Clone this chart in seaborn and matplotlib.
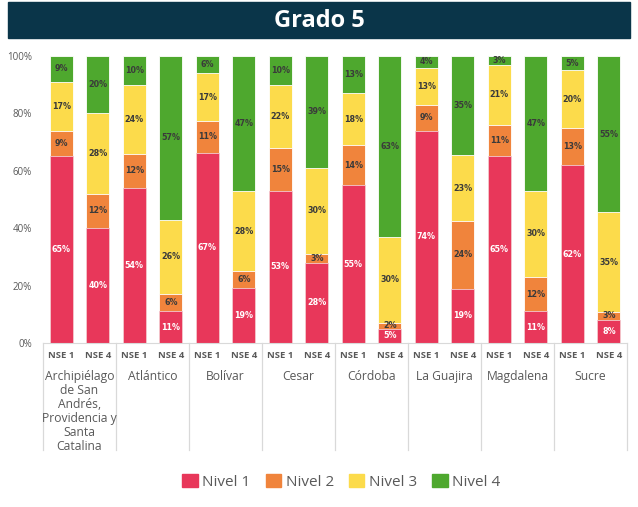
import matplotlib
matplotlib.use("Agg")
import matplotlib.pyplot as plt
from matplotlib.patches import Rectangle, Patch
import pandas as pd
import seaborn as sns

# === Data ===
REGIONS = [
    "Archipiélago\nde San\nAndrés,\nProvidencia y\nSanta\nCatalina",
    "Atlántico",
    "Bolívar",
    "Cesar",
    "Córdoba",
    "La Guajira",
    "Magdalena",
    "Sucre",
]
NSE = ["NSE 1", "NSE 4"]
LEVELS = ["Nivel 1", "Nivel 2", "Nivel 3", "Nivel 4"]

# one entry per bar: region order, NSE 1 then NSE 4
NIVEL_1 = [65, 40, 54, 11, 67, 19, 53, 28, 55, 5, 74, 19, 65, 11, 62, 8]
NIVEL_2 = [9, 12, 12, 6, 11, 6, 15, 3, 14, 2, 9, 24, 11, 12, 13, 3]
NIVEL_3 = [17, 28, 24, 26, 17, 28, 22, 30, 18, 30, 13, 23, 21, 30, 20, 35]
NIVEL_4 = [9, 20, 10, 57, 6, 47, 10, 39, 13, 63, 4, 35, 3, 47, 5, 55]

COLORS = ["#E8375A", "#F0843C", "#FCDB4B", "#4EA82E"]
TEXT_COLORS = ["white", "#3a3a3a", "#3a3a3a", "#3a3a3a"]
GRAY = "#595959"

plt.rcParams["font.family"] = ["Open Sans", "DejaVu Sans"]

# long table, one row per bar
bars = [f"{r}|{n}" for r in REGIONS for n in NSE]
df = pd.DataFrame({
    "bar": bars,
    "Nivel 1": NIVEL_1,
    "Nivel 2": NIVEL_2,
    "Nivel 3": NIVEL_3,
    "Nivel 4": NIVEL_4,
})
total = df[LEVELS].sum(axis=1)
# 100% stacked: cumulative share of each bar
cum = df[LEVELS].cumsum(axis=1).div(total, axis=0) * 100

fig = plt.figure(figsize=(6.38, 5.07), dpi=100)
ax = fig.add_axes([0.0674, 0.3235, 0.9156, 0.566])

# draw tallest cumulative first so lower levels sit on top
for i in range(len(LEVELS) - 1, -1, -1):
    sns.barplot(
        x=df["bar"], y=cum[LEVELS[i]], order=bars, color=COLORS[i],
        width=0.63, edgecolor="#f4c9cf" if i == 0 else "white",
        linewidth=0.6, ax=ax, saturation=1, errorbar=None,
    )

# segment labels
for j in range(len(bars)):
    prev = 0
    for i, lev in enumerate(LEVELS):
        top = cum.loc[j, lev]
        mid = (prev + top) / 2
        ax.text(j, mid, f"{df.loc[j, lev]}%", ha="center", va="center",
                fontsize=5.8, fontweight="bold", color=TEXT_COLORS[i],
                family="DejaVu Sans")
        prev = top

ax.set_xlim(-0.5, len(bars) - 0.5)
ax.set_ylim(0, 100)
ax.set_yticks([0, 20, 40, 60, 80, 100])
ax.set_yticklabels([f"{v}%" for v in range(0, 101, 20)], fontsize=7, color=GRAY)
ax.tick_params(axis="y", length=0, pad=8)
ax.tick_params(axis="x", length=0)
ax.set_xticks(range(len(bars)))
ax.set_xticklabels([])
ax.set_xlabel("")
ax.set_ylabel("")
for s in ["top", "right", "left"]:
    ax.spines[s].set_visible(False)
ax.spines["bottom"].set_color("#d9d9d9")
ax.spines["bottom"].set_linewidth(0.8)

# two-level category axis
trans = ax.get_xaxis_transform()
for j, b in enumerate(bars):
    ax.text(j, -0.042, b.split("|")[1], transform=trans, ha="center",
            va="center", fontsize=6.8, fontweight="bold", color=GRAY)
for g, r in enumerate(REGIONS):
    ax.text(2 * g + 0.5, -0.095, r, transform=trans, ha="center", va="top",
            fontsize=8.7, color=GRAY, linespacing=1.1)
for g in range(len(REGIONS) + 1):
    x = 2 * g - 0.5
    ax.plot([x, x], [0, -0.373], transform=trans, color="#d9d9d9",
            linewidth=0.9, clip_on=False)

# title banner
fig.patches.append(Rectangle((8 / 638, 1 - 38 / 507), 622 / 638, 36 / 507,
                             transform=fig.transFigure, color="#0A3549", zorder=0))
fig.text(0.5, 1 - 21 / 507, "Grado 5", ha="center", va="center",
         fontsize=17, fontweight="bold", color="white")

handles = [Patch(facecolor=c, edgecolor=c) for c in COLORS]
fig.legend(handles, LEVELS, loc="center", bbox_to_anchor=(0.535, 0.05),
           ncol=4, frameon=False, fontsize=11, labelcolor=GRAY,
           handlelength=1.0, handleheight=1.0, handletextpad=0.3,
           columnspacing=1.0)

fig.savefig("out.png", dpi=100)
